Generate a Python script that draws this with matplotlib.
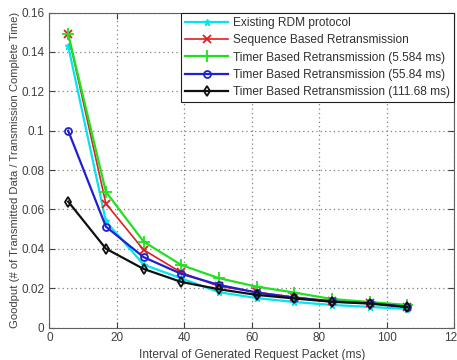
import numpy as np
import matplotlib
matplotlib.use("Agg")
import matplotlib.pyplot as plt

plt.rcParams['font.family'] = ['Liberation Sans', 'DejaVu Sans']

# interval of generated request packet (ms)
interval = [5.584, 16.752, 27.92, 39.088, 50.256, 61.424, 72.592, 83.76, 94.928, 106.096]

existing_rdm = [0.143, 0.054, 0.032, 0.025, 0.018, 0.015, 0.013, 0.0115, 0.0105, 0.0095]
seq_retx = [0.149, 0.063, 0.0395, 0.028, 0.021, 0.018, 0.0155, 0.0135, 0.0123, 0.0105]
timer_5584 = [0.149, 0.069, 0.0437, 0.0318, 0.0251, 0.0208, 0.0178, 0.0145, 0.013, 0.0115]
timer_5584_0 = [0.100, 0.0513, 0.0358, 0.0273, 0.0217, 0.0178, 0.0152, 0.0133, 0.0124, 0.0106]
timer_11168 = [0.064, 0.0401, 0.0298, 0.0232, 0.0195, 0.0166, 0.0148, 0.0131, 0.0122, 0.0104]

labels = ["Existing RDM protocol",
          "Sequence Based Retransmission",
          "Timer Based Retransmission (5.584 ms)",
          "Timer Based Retransmission (55.84 ms)",
          "Timer Based Retransmission (111.68 ms)"]

fig = plt.figure(figsize=(4.57, 3.6), dpi=100)
ax = fig.add_axes([0.108, 0.09, 0.886, 0.875])

txt = '#404040'
ax.plot(interval, existing_rdm, color='#00e5ee', marker='*', ms=5, lw=1.6, label=labels[0])
ax.plot(interval, seq_retx, color='#e02020', marker='x', ms=6, mew=1.3, lw=1.2, label=labels[1])
ax.plot(interval, timer_5584, color='#20e020', marker='+', ms=8, mew=1.3, lw=1.6, label=labels[2])
ax.plot(interval, timer_5584_0, color='#2020d0', marker='o', ms=5, mfc='none', mew=1.3, lw=1.6, label=labels[3])
ax.plot(interval, timer_11168, color='#101010', marker='d', ms=5, mfc='none', mew=1.3, lw=1.6, label=labels[4])

ax.set_xlim(0, 120)
ax.set_ylim(0, 0.16)
ax.set_xticks(np.arange(0, 121, 20))
ax.set_yticks(np.arange(0, 0.161, 0.02))
ax.set_yticklabels(["0", "0.02", "0.04", "0.06", "0.08", "0.1", "0.12", "0.14", "0.16"])
ax.grid(True, linestyle=(0, (1, 2.5)), color='#808080', lw=0.9)
ax.tick_params(direction='in', labelsize=8.5, colors=txt, length=4, top=True, right=True)
for s in ax.spines.values():
    s.set_color('#606060')

ax.set_xlabel("Interval of Generated Request Packet (ms)", fontsize=8.6, color=txt, labelpad=3)
ax.set_ylabel("Goodput (# of Transmitted Data / Transmission Complete Time)", fontsize=8.1, color=txt, labelpad=1)

leg = ax.legend(loc='upper right', fontsize=8.6, handlelength=3.6, borderaxespad=0,
                fancybox=False, framealpha=1, labelspacing=0.45, borderpad=0.35, handletextpad=0.4)
leg.get_frame().set_edgecolor('#202020')
leg.get_frame().set_linewidth(0.8)
for t in leg.get_texts():
    t.set_color('#303030')

fig.savefig("out.png", dpi=100)
